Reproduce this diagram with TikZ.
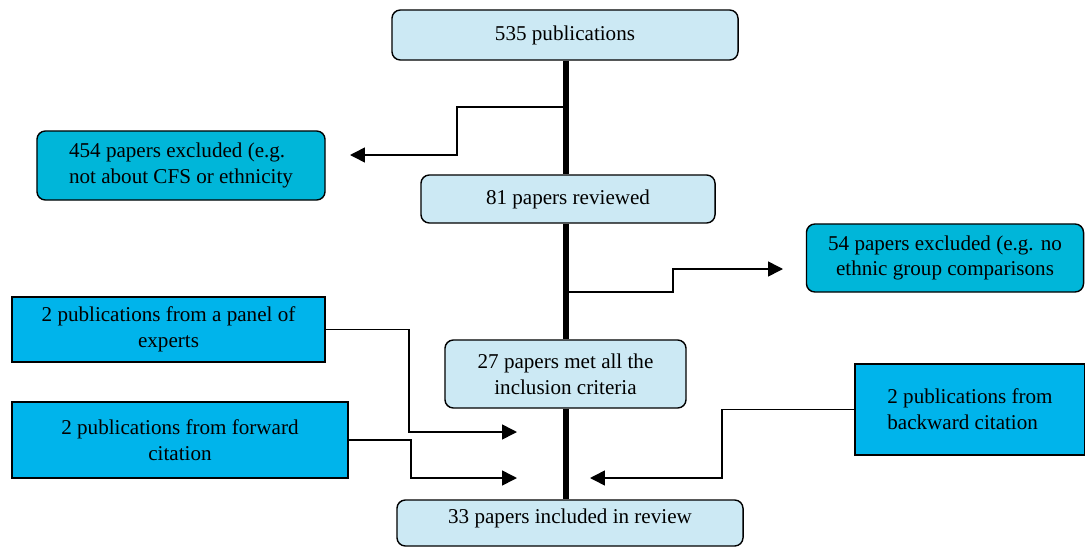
\documentclass[tikz,border=0pt]{standalone}
\usepackage{fontspec}
\setmainfont{Liberation Serif}
\usetikzlibrary{arrows.meta}
\definecolor{lightblue}{HTML}{CCE9F4}
\definecolor{cyanbox}{HTML}{00B6D9}
\definecolor{bluebox}{HTML}{00B4EB}

\begin{document}
\begin{tikzpicture}[x=0.025cm, y=-0.025cm,
    font=\fontsize{15}{18.4}\selectfont,
    stage/.style={draw, line width=1pt, rounded corners=6pt, fill=lightblue, align=center, inner sep=2pt},
    excl/.style={draw, line width=1pt, rounded corners=6pt, fill=cyanbox, inner sep=2pt},
    extra/.style={draw, line width=1pt, fill=bluebox, inner sep=2pt},
    spine/.style={line width=3.8pt},
    link/.style={line width=1.1pt, -{Triangle[length=10.5pt, width=10.5pt]}}]
    \useasboundingbox (0,0) rectangle (1085,546);
    \clip (0,0) rectangle (1085,546);
    \node [stage, minimum width=8.65cm, minimum height=1.25cm] (pubs) at (565,35) {535 publications};
    \node [stage, minimum width=7.35cm, minimum height=1.2cm] (reviewed) at (568,199) {81 papers reviewed};
    \node [stage, minimum width=6.025cm, minimum height=1.7cm] (criteria) at (565.5,374) {27 papers met all the\\inclusion criteria};
    \node [stage, minimum width=8.65cm, minimum height=1.15cm, text depth=9pt] (included) at (570,523) {33 papers included in review};
    \node [excl, align=left, minimum width=7.2cm, minimum height=1.725cm] (excl454) at (181,165.5) {454 papers excluded (e.g.\\not about CFS or ethnicity};
    \node [excl, align=center, minimum width=6.925cm, minimum height=1.7cm] (excl54) at (945,258) {54 papers excluded (e.g. no\\ethnic group comparisons};
    \node [extra, align=center, minimum width=7.825cm, minimum height=1.625cm] (experts) at (168.5,329.5) {2 publications from a panel of\\experts};
    \node [extra, align=center, minimum width=8.4cm, minimum height=1.9cm] (forward) at (180,440) {2 publications from forward\\citation};
    \node [extra, align=left, minimum width=5.75cm, minimum height=2.275cm] (backward) at (970,409.5) {2 publications from\\backward citation};

    \coordinate (out454) at (566,107);
    \coordinate (out54) at (566,292);
    \coordinate (tip454) at (350,155);
    \coordinate (tip54) at (783,269);
    \coordinate (tipexp) at (517,432);
    \coordinate (tipfwd) at (517,478);
    \coordinate (tipbwd) at (590,478);

    \draw [spine] (pubs.south -| out454) -- (reviewed.north -| out454);
    \draw [spine] (reviewed.south -| out454) -- (criteria.north -| out454);
    \draw [spine] (criteria.south -| out454) -- (included.north -| out454);

    \draw [link] (out454) -| (457,155) -- (tip454);
    \draw [link] (out54) -| (673,269) -- (tip54);
    \draw [link] (experts.east) -| (409,432) -- (tipexp);
    \draw [link] (forward.east) -| (411,478) -- (tipfwd);
    \draw [link] (backward.west) -| (722,478) -- (tipbwd);
\end{tikzpicture}
\end{document}
